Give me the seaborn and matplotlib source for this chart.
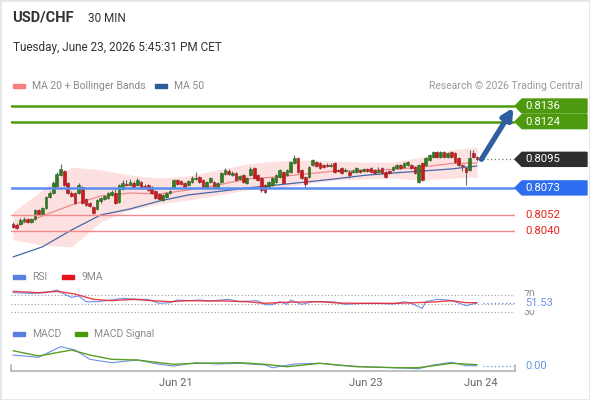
import matplotlib
matplotlib.use("Agg")
import matplotlib.pyplot as plt
import matplotlib.transforms as mtransforms
from matplotlib.patches import Polygon, Rectangle
import seaborn as sns
import numpy as np
import pandas as pd

# USD/CHF 30 min candles, oldest first
opens = [0.80452, 0.80445, 0.80452, 0.80476, 0.80491, 0.80468, 0.80491, 0.80560, 0.80529, 0.80576,
         0.80660, 0.80691, 0.80745, 0.80829, 0.80860, 0.80768, 0.80691, 0.80691, 0.80691, 0.80737,
         0.80645, 0.80614, 0.80583, 0.80568, 0.80629, 0.80645, 0.80652, 0.80676, 0.80691, 0.80622,
         0.80722, 0.80760, 0.80752, 0.80768, 0.80752, 0.80775, 0.80745, 0.80752, 0.80737, 0.80706,
         0.80683, 0.80637, 0.80660, 0.80691, 0.80737, 0.80791, 0.80783, 0.80768, 0.80752, 0.80775,
         0.80799, 0.80814, 0.80791, 0.80737, 0.80775, 0.80775, 0.80729, 0.80775, 0.80837, 0.80860,
         0.80829, 0.80845, 0.80799, 0.80829, 0.80768, 0.80829, 0.80883, 0.80829, 0.80806, 0.80752,
         0.80737, 0.80752, 0.80775, 0.80814, 0.80852, 0.80829, 0.80852, 0.80922, 0.80960, 0.80868,
         0.80814, 0.80814, 0.80906, 0.80929, 0.80922, 0.80906, 0.80906, 0.80899, 0.80922, 0.80868,
         0.80883, 0.80860, 0.80852, 0.80852, 0.80852, 0.80868, 0.80860, 0.80876, 0.80883, 0.80868,
         0.80852, 0.80883, 0.80852, 0.80860, 0.80868, 0.80883, 0.80906, 0.80891, 0.80906, 0.80906,
         0.80891, 0.80775, 0.80922, 0.80906, 0.80945, 0.80968, 0.81006, 0.80968, 0.81006, 0.80968,
         0.81006, 0.80999, 0.80960, 0.80906, 0.80883, 0.80868, 0.80999, 0.80968]
closes = [0.80429, 0.80422, 0.80483, 0.80491, 0.80468, 0.80491, 0.80560, 0.80529, 0.80576, 0.80660,
          0.80691, 0.80768, 0.80837, 0.80876, 0.80752, 0.80691, 0.80668, 0.80614, 0.80752, 0.80614,
          0.80599, 0.80591, 0.80537, 0.80637, 0.80652, 0.80668, 0.80691, 0.80699, 0.80614, 0.80752,
          0.80768, 0.80752, 0.80775, 0.80737, 0.80791, 0.80729, 0.80737, 0.80714, 0.80691, 0.80652,
          0.80645, 0.80676, 0.80691, 0.80706, 0.80791, 0.80760, 0.80760, 0.80737, 0.80783, 0.80806,
          0.80806, 0.80775, 0.80737, 0.80775, 0.80806, 0.80737, 0.80768, 0.80845, 0.80868, 0.80837,
          0.80845, 0.80791, 0.80822, 0.80775, 0.80806, 0.80876, 0.80806, 0.80791, 0.80714, 0.80699,
          0.80775, 0.80806, 0.80829, 0.80868, 0.80768, 0.80868, 0.80929, 0.80960, 0.80852, 0.80806,
          0.80760, 0.80891, 0.80945, 0.80899, 0.80883, 0.80891, 0.80899, 0.80906, 0.80852, 0.80860,
          0.80845, 0.80868, 0.80829, 0.80860, 0.80883, 0.80852, 0.80876, 0.80860, 0.80852, 0.80845,
          0.80868, 0.80845, 0.80814, 0.80845, 0.80891, 0.80906, 0.80883, 0.80922, 0.80929, 0.80883,
          0.80845, 0.80906, 0.80791, 0.80960, 0.80983, 0.81006, 0.80968, 0.81006, 0.80968, 0.80999,
          0.80968, 0.80929, 0.80906, 0.80899, 0.80852, 0.80960, 0.80968, 0.80950]
highs = [0.80468, 0.80460, 0.80499, 0.80506, 0.80499, 0.80499, 0.80568, 0.80568, 0.80583, 0.80668,
         0.80706, 0.80783, 0.80852, 0.80914, 0.80868, 0.80775, 0.80706, 0.80699, 0.80768, 0.80745,
         0.80652, 0.80622, 0.80591, 0.80645, 0.80660, 0.80676, 0.80699, 0.80714, 0.80722, 0.80760,
         0.80791, 0.80791, 0.80799, 0.80783, 0.80806, 0.80783, 0.80760, 0.80760, 0.80745, 0.80714,
         0.80691, 0.80683, 0.80699, 0.80714, 0.80799, 0.80799, 0.80791, 0.80775, 0.80791, 0.80822,
         0.80852, 0.80822, 0.80799, 0.80783, 0.80814, 0.80783, 0.80775, 0.80852, 0.80883, 0.80876,
         0.80860, 0.80852, 0.80829, 0.80837, 0.80814, 0.80891, 0.80891, 0.80837, 0.80814, 0.80760,
         0.80783, 0.80814, 0.80837, 0.80876, 0.80860, 0.80876, 0.80937, 0.80983, 0.80968, 0.80876,
         0.80822, 0.80899, 0.80952, 0.80937, 0.80929, 0.80914, 0.80922, 0.80922, 0.80929, 0.80876,
         0.80891, 0.80883, 0.80868, 0.80876, 0.80891, 0.80876, 0.80883, 0.80883, 0.80891, 0.80876,
         0.80891, 0.80891, 0.80860, 0.80868, 0.80899, 0.80914, 0.80914, 0.80929, 0.80937, 0.80914,
         0.80899, 0.80914, 0.80929, 0.80968, 0.80991, 0.81014, 0.81014, 0.81014, 0.81014, 0.81006,
         0.81014, 0.81006, 0.80968, 0.80914, 0.80891, 0.81022, 0.81022, 0.80976]
lows = [0.80422, 0.80414, 0.80445, 0.80468, 0.80460, 0.80460, 0.80483, 0.80522, 0.80522, 0.80568,
        0.80652, 0.80683, 0.80737, 0.80822, 0.80745, 0.80683, 0.80660, 0.80606, 0.80683, 0.80606,
        0.80591, 0.80583, 0.80529, 0.80560, 0.80614, 0.80637, 0.80645, 0.80668, 0.80606, 0.80614,
        0.80714, 0.80745, 0.80745, 0.80729, 0.80745, 0.80722, 0.80729, 0.80706, 0.80683, 0.80645,
        0.80637, 0.80629, 0.80652, 0.80683, 0.80729, 0.80752, 0.80752, 0.80729, 0.80745, 0.80768,
        0.80791, 0.80768, 0.80729, 0.80729, 0.80768, 0.80729, 0.80722, 0.80768, 0.80829, 0.80829,
        0.80822, 0.80783, 0.80791, 0.80768, 0.80760, 0.80822, 0.80799, 0.80783, 0.80699, 0.80691,
        0.80729, 0.80745, 0.80768, 0.80806, 0.80760, 0.80822, 0.80845, 0.80914, 0.80845, 0.80799,
        0.80729, 0.80806, 0.80899, 0.80891, 0.80876, 0.80883, 0.80891, 0.80891, 0.80845, 0.80852,
        0.80837, 0.80852, 0.80806, 0.80845, 0.80845, 0.80845, 0.80852, 0.80852, 0.80845, 0.80837,
        0.80845, 0.80837, 0.80806, 0.80837, 0.80860, 0.80876, 0.80876, 0.80883, 0.80899, 0.80876,
        0.80837, 0.80768, 0.80783, 0.80899, 0.80937, 0.80960, 0.80960, 0.80960, 0.80960, 0.80960,
        0.80960, 0.80922, 0.80899, 0.80860, 0.80752, 0.80860, 0.80960, 0.80937]

# overlays, read every 8 candles
ov_idx = [0, 8, 16, 24, 32, 40, 48, 56, 64, 72, 80, 88, 96, 104, 112, 120, 127]
ma20 = [0.80429, 0.80514, 0.80599, 0.80668, 0.80691, 0.80683, 0.80714, 0.80752, 0.80799,
        0.80814, 0.80837, 0.80860, 0.80864, 0.80872, 0.80891, 0.80918, 0.80922]
bb_upper = [0.80545, 0.80714, 0.80891, 0.80868, 0.80829, 0.80806, 0.80822, 0.80868, 0.80914,
            0.80937, 0.80945, 0.80937, 0.80929, 0.80929, 0.80968, 0.81022, 0.81045]
bb_lower = [0.80330, 0.80291, 0.80276, 0.80468, 0.80560, 0.80606, 0.80637, 0.80676, 0.80714,
            0.80729, 0.80760, 0.80791, 0.80799, 0.80806, 0.80791, 0.80806, 0.80814]
ma50 = [0.80199, 0.80276, 0.80406, 0.80522, 0.80568, 0.80629, 0.80676, 0.80702, 0.80729,
        0.80752, 0.80775, 0.80799, 0.80826, 0.80845, 0.80860, 0.80876, 0.80899]

resistances = [0.8136, 0.8124]
pivot = 0.8073
supports = [0.8052, 0.8040]
last_price = 0.8095

# RSI + its 9 period MA
rsi_idx = [0, 5, 9, 12, 14, 16, 18, 20, 23, 27, 30, 34, 37, 40, 43, 45, 48, 51, 54, 57, 59, 62,
           67, 69, 71, 73, 75, 76, 79, 82, 85, 88, 91, 96, 100, 104, 107, 109, 112, 113, 116,
           119, 121, 124, 127]
rsi = [75.3, 73.9, 75.3, 81.5, 72.3, 64.7, 67.7, 54.6, 54.6, 58.5, 62.3, 60.0, 60.0, 50.8, 52.3,
       58.5, 56.9, 58.5, 56.2, 58.5, 60.0, 54.6, 56.9, 47.7, 47.7, 54.6, 48.5, 58.5, 48.5, 54.6,
       54.6, 53.8, 48.5, 50.8, 50.8, 49.2, 54.6, 50.8, 39.2, 54.6, 60.0, 58.5, 54.6, 45.4, 51.53]
rsi_ma_idx = [0, 7, 12, 17, 22, 27, 33, 38, 43, 48, 53, 58, 64, 69, 74, 79, 84, 89, 95, 100,
              105, 110, 115, 120, 124, 127]
rsi_ma = [78.5, 75.3, 78.5, 72.3, 60.0, 56.9, 60.0, 56.9, 54.6, 56.9, 56.2, 56.2, 54.6, 50.8,
          53.1, 53.8, 54.6, 51.5, 50.8, 50.8, 50.8, 52.3, 53.8, 56.9, 52.3, 52.3]

# MACD and signal, in pips
macd_idx = [0, 7, 13, 17, 21, 27, 34, 40, 44, 50, 56, 62, 69, 71, 77, 84, 89, 96, 104, 111,
            115, 120, 124, 127]
macd = [1.10, 0.87, 1.93, 1.60, 0.67, 0.33, 0.60, 0.17, 0.0, 0.33, 0.20, 0.27, 0.10, -0.17,
        0.20, 0.27, 0.07, -0.07, -0.17, -0.27, 0.10, 0.37, 0.03, 0.03]
sig_idx = [0, 7, 16, 21, 27, 34, 40, 44, 50, 62, 69, 75, 84, 94, 105, 111, 120, 127]
signal = [1.53, 1.00, 1.60, 1.10, 0.67, 0.60, 0.33, 0.17, 0.27, 0.33, 0.17, -0.07, 0.27, -0.07,
          -0.17, -0.17, 0.27, 0.13]

date_ticks = [44.6, 96.6, 128.1]
date_labels = ["Jun 21", "Jun 23", "Jun 24"]

GREEN = "#4e9a0e"
BLUE_LVL = "#5b8def"
TAG_BLUE = "#2f6df0"
SALMON = "#f08a8a"
RED_TXT = "#e8231c"
IND_BLUE = "#6f90e6"
GREY = "#8a8a8a"

sns.set_theme(style="white")
plt.rcParams["font.family"] = ["Roboto", "DejaVu Sans"]

W, H = 590, 400
fig = plt.figure(figsize=(W / 100, H / 100), dpi=100)
fig.patch.set_facecolor("white")


def box(x0, y0, x1, y1):
    return [x0 / W, 1 - y1 / H, (x1 - x0) / W, (y1 - y0) / H]


ax = fig.add_axes(box(11, 95, 515, 262))
ax_rsi = fig.add_axes(box(11, 287, 515, 318))
ax_macd = fig.add_axes(box(11, 343, 515, 371))
XLIM = (-0.55, 137.4)
for a in (ax, ax_rsi, ax_macd):
    a.set_facecolor("none")
    for s in a.spines.values():
        s.set_visible(False)
    a.set_xticks([])
    a.set_yticks([])

# main panel
df = pd.DataFrame({"o": opens, "h": highs, "l": lows, "c": closes})
df["i"] = np.arange(len(df))
up = df["c"] >= df["o"]

ax.fill_between(ov_idx, bb_lower, bb_upper, color="#fde0e0", lw=0, zorder=1)
sns.lineplot(x=ov_idx, y=ma20, ax=ax, color=SALMON, lw=0.9, zorder=2)
sns.lineplot(x=ov_idx, y=ma50, ax=ax, color="#4468aa", lw=0.9, zorder=2)

ax.vlines(df["i"], df["l"], df["h"], color="#6a6a6a", lw=0.8, zorder=3)
ax.bar(df["i"][up], (df["c"] - df["o"])[up], bottom=df["o"][up], width=0.75,
       color="#2f7d1f", edgecolor="#245f18", lw=0.4, zorder=4)
ax.bar(df["i"][~up], (df["o"] - df["c"])[~up], bottom=df["c"][~up], width=0.75,
       color="#d0181c", edgecolor="#8e1a1a", lw=0.4, zorder=4)

for lv in resistances:
    ax.axhline(lv, color=GREEN, lw=1.8, zorder=5)
ax.axhline(pivot, color=BLUE_LVL, lw=1.8, zorder=5)
for lv in supports:
    ax.axhline(lv, color=SALMON, lw=1.0, zorder=5)
ax.hlines(last_price, 128.6, XLIM[1], color="#777777", lw=0.9, linestyles=(0, (1, 2)), zorder=5)

ax.annotate("", xy=(137.0, 0.81348), xytext=(128.2, last_price),
            arrowprops=dict(arrowstyle="-|>", color="#2f5f9f", lw=3.8, mutation_scale=16,
                            shrinkA=0, shrinkB=0), annotation_clip=False, zorder=6)
ax.set_xlim(*XLIM)
ax.set_ylim(0.80160, 0.81445)

tr = mtransforms.blended_transform_factory(fig.transFigure, ax.transData)


def tag(price, text, color):
    h = 0.00054
    pts = [(515 / W, price), (522 / W, price + h), (587 / W, price + h),
           (587 / W, price - h), (522 / W, price - h)]
    ax.add_patch(Polygon(pts, closed=True, transform=tr, color=color, clip_on=False, zorder=7))
    ax.text(525 / W, price, text, transform=tr, color="white", fontsize=8.2, va="center",
            ha="left", zorder=8, clip_on=False)


for lv in resistances:
    tag(lv, f"{lv:.4f}", GREEN)
tag(last_price, f"{last_price:.4f}", "#2e2e2e")
tag(pivot, f"{pivot:.4f}", TAG_BLUE)
for lv in supports:
    ax.text(525 / W, lv, f"{lv:.4f}", transform=tr, color=RED_TXT, fontsize=8.2,
            va="center", ha="left", clip_on=False)
ax.set_xlim(*XLIM)
ax.set_ylim(0.80160, 0.81445)

# RSI panel
for lv in (70, 50, 30):
    ax_rsi.axhline(lv, color="#9a9a9a", lw=0.8, ls=(0, (1, 2)))
sns.lineplot(x=rsi_idx, y=rsi, ax=ax_rsi, color=IND_BLUE, lw=0.8)
sns.lineplot(x=rsi_ma_idx, y=rsi_ma, ax=ax_rsi, color="#e8202a", lw=1.0, alpha=0.85)
ax_rsi.hlines(rsi[-1], 128.6, XLIM[1], color=IND_BLUE, lw=0.9, linestyles=(0, (1, 2)))
ax_rsi.set_xlim(*XLIM)
ax_rsi.set_ylim(16.9, 88.5)
tr_rsi = mtransforms.blended_transform_factory(fig.transFigure, ax_rsi.transData)
ax_rsi.text(524 / W, 70, "70", transform=tr_rsi, color=GREY, fontsize=7.5, va="center", clip_on=False)
ax_rsi.text(524 / W, 30, "30", transform=tr_rsi, color=GREY, fontsize=7.5, va="center", clip_on=False)
ax_rsi.text(525 / W, rsi[-1], f"{rsi[-1]:.2f}", transform=tr_rsi, color=IND_BLUE, fontsize=8,
            va="center", clip_on=False, bbox=dict(fc="white", ec="none", pad=1.2))

# MACD panel
sns.lineplot(x=macd_idx, y=macd, ax=ax_macd, color=IND_BLUE, lw=0.8)
sns.lineplot(x=sig_idx, y=signal, ax=ax_macd, color="#5a9e22", lw=1.0)
ax_macd.hlines(0, 128.6, XLIM[1], color=IND_BLUE, lw=0.9, linestyles=(0, (1, 2)))
ax_macd.set_xlim(*XLIM)
ax_macd.set_ylim(-0.5, 2.3)
tr_macd = mtransforms.blended_transform_factory(fig.transFigure, ax_macd.transData)
ax_macd.text(525 / W, 0, "0.00", transform=tr_macd, color=IND_BLUE, fontsize=8, va="center", clip_on=False)

ax_macd.spines["bottom"].set_visible(True)
ax_macd.spines["bottom"].set_color("#b5b5b5")
ax_macd.spines["bottom"].set_linewidth(1.2)
for xe in (0, 1):
    ax_macd.plot([xe, xe], [0, 0.22], transform=ax_macd.transAxes, color="#b5b5b5", lw=1.2, clip_on=False)
ax_macd.set_xticks(date_ticks, date_labels)
ax_macd.tick_params(axis="x", length=0, pad=5, labelsize=8, labelcolor="#666666")

# header texts
fig.text(12 / W, 1 - 18 / H, "USD/CHF", fontsize=10.5, fontweight="bold", color="#333333", va="center")
fig.text(88 / W, 1 - 18 / H, "30 MIN", fontsize=8.5, color="#333333", va="center")
fig.text(13 / W, 1 - 48 / H, "Tuesday, June 23, 2026 5:45:31 PM CET", fontsize=8.5,
         color="#333333", va="center")
fig.text(583 / W, 1 - 86 / H, "Research \u00a9 2026 Trading Central", fontsize=7.5,
         color="#9a9a9a", va="center", ha="right")


def legend_item(x, y, color, label):
    fig.patches.append(Rectangle((x / W, 1 - (y + 2) / H), 12 / W, 4 / H,
                                 transform=fig.transFigure, color=color))
    fig.text((x + 19) / W, 1 - y / H, label, fontsize=7.5, color="#8a8a8a", va="center")


legend_item(13, 86, "#f77f7f", "MA 20 + Bollinger Bands")
legend_item(155, 86, "#2e5a9c", "MA 50")
legend_item(13, 277, "#5b7fe0", "RSI")
legend_item(62, 277, "#e8131b", "9MA")
legend_item(13, 334, "#5b7fe0", "MACD")
legend_item(75, 334, "#4c9a0c", "MACD Signal")

# card frame
fig.patches.append(Rectangle((0, 0), 1, 1, transform=fig.transFigure, fill=False,
                             edgecolor="#e3e6ea", lw=2))

fig.savefig("out.png", dpi=100)
